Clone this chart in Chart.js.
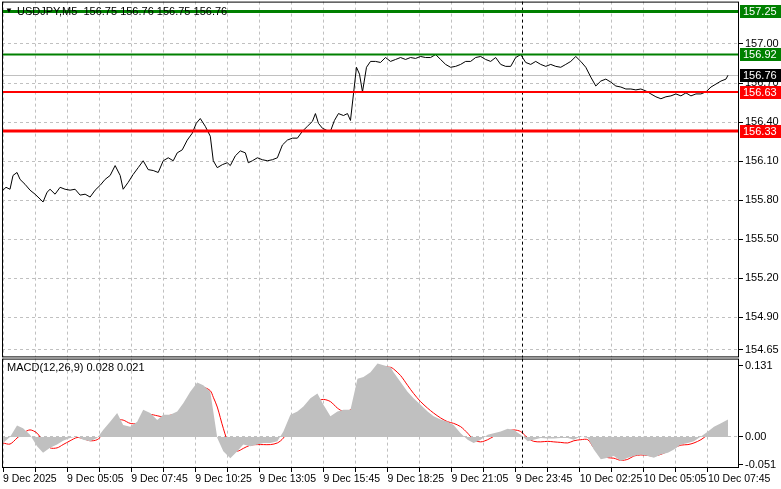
<!DOCTYPE html>
<html><head><meta charset="utf-8">
<script src="https://cdn.jsdelivr.net/npm/chart.js@4.4.1/dist/chart.umd.min.js"></script>
<style>
html,body{margin:0;padding:0;background:#fff;width:781px;height:489px;overflow:hidden;position:relative}
#c1{position:absolute;left:0;top:-7px}
#c2{position:absolute;left:0;top:350px}
</style></head><body>
<canvas id="c1" width="781" height="373"></canvas>
<canvas id="c2" width="781" height="139"></canvas>
<script>
const titleText = "USDJPY,M5  156.75 156.76 156.75 156.76";
const macdText = "MACD(12,26,9) 0.028 0.021";
const timeLabels = ["9 Dec 2025","9 Dec 05:05","9 Dec 07:45","9 Dec 10:25","9 Dec 13:05","9 Dec 15:45","9 Dec 18:25","9 Dec 21:05","9 Dec 23:45","10 Dec 02:25","10 Dec 05:05","10 Dec 07:45"];
const priceTicks = [154.65,154.90,155.20,155.50,155.80,156.10,156.40,156.70,157.00];
const macdTicks = [-0.051,0,0.131];
const levelValues = [157.25,156.92,156.63,156.33];
const levelColors = ["#008000","#008000","#ff0000","#ff0000"];
const levelWidths = [3,2,2,3];
const lastPrice = 156.76;
const markerBar = 259;

const priceBarsA = [0,1.5,3.5,5,7,8.5,11,13.5,16,18.5,20,22,23.5,26,28.5,31,33.5,36,38.5,41,43.5,46,48.5,51,53.5,56,58.5,60,62.5,65,67.5,70,72.5,75,77.5,80,82.5,85,87,89.5,92,94.5,96.5,98.5,101,103.5,105,107,109.5,112,113.5,116,118.5,121,122.5,124.5,127,129.5,132,134.5,137,139.5,142,144.5,147,149.5,152,154.5,156,157.5,159.5,161.5,163.5,165.5,167.5,170,172,173.5,175,176.5,178,179.5];
const pricesA = [155.876,155.898,155.883,155.989,156.012,155.959,155.921,155.876,155.845,155.808,155.785,155.860,155.883,155.845,155.898,155.883,155.876,155.883,155.838,155.845,155.823,155.876,155.913,155.959,155.989,156.065,155.989,155.883,155.936,155.997,156.049,156.102,156.034,156.027,156.012,156.102,156.125,156.102,156.163,156.186,156.261,156.314,156.390,156.427,156.367,156.291,156.102,156.049,156.072,156.087,156.065,156.140,156.178,156.163,156.087,156.102,156.125,156.110,156.102,156.110,156.125,156.223,156.261,156.276,156.276,156.329,156.367,156.405,156.465,156.390,156.352,156.337,156.329,156.412,156.465,156.450,156.465,156.412,156.616,156.821,156.768,156.632];
const priceBarsB = [181.5,183.5,186,188.5,191,193.5,196,198.5,201,203.5,206,208.5,211,213.5,216,218.5,221,223.5,226,228.5,231,233.5,236,238.5,241,243.5,246,248.5,251,253.5,256,258.5,261,263.5,266,268.5,271,273.5,276,278.5,281,283.5,286,288.5,291,293.5,296,298.5,301,303.5,306,308.5,311,313.5,316,318.5,321,323.5,326,328.5,331,333.5,336,338.5,341,343.5,346,348.5,351,353.5,356,358.5,361,362];
const pricesB = [156.821,156.866,156.866,156.858,156.896,156.866,156.881,156.896,156.881,156.896,156.889,156.904,156.896,156.896,156.919,156.881,156.843,156.821,156.828,156.843,156.866,156.866,156.896,156.904,156.881,156.866,156.896,156.843,156.828,156.828,156.896,156.919,156.858,156.843,156.866,156.843,156.828,156.843,156.828,156.821,156.843,156.866,156.904,156.866,156.821,156.745,156.677,156.715,156.730,156.707,156.677,156.669,156.654,156.654,156.647,156.654,156.639,156.616,156.594,156.579,156.594,156.601,156.616,156.601,156.624,156.601,156.616,156.616,156.632,156.669,156.692,156.715,156.730,156.760];

const macdBars = [0,3.5,7,10,13.5,17,20,23.5,27,30,33.5,37,40,43.5,47,50,53.5,57,60,63.5,67,70,73.5,77,80,83.5,87,90,93.5,97,100,103.5,105,107,110,113.5,117,120,123.5,127,130,133.5,137,140,143.5,147,150,153.5,157,160,163.5,167,170,173.5,177,180,183.5,187,190,193.5,
195,198.5,202,205,208.5,212,215,218.5,222,225,228.5,232,235,238.5,242,245,248.5,252,255,258.5,262,265,268.5,272,275,278.5,282,285,288.5,292,295,298.5,302,305,308.5,312,315,318.5,322,325,328.5,332,335,338.5,342,345,348.5,352,355,358.5,362];
const macdHist = [-0.011,0.0,0.021,0.016,0.004,-0.017,-0.029,-0.02,-0.014,-0.007,-0.002,0.001,-0.005,-0.008,-0.002,0.013,0.028,0.044,0.022,0.019,0.028,0.05,0.044,0.031,0.041,0.041,0.047,0.062,0.083,0.1,0.095,0.083,0.047,-0.002,-0.026,-0.039,-0.026,-0.014,-0.017,-0.014,-0.011,-0.011,-0.008,0.01,0.041,0.047,0.056,0.071,0.08,0.059,0.038,0.047,0.05,0.05,0.107,0.11,0.119,0.135,0.132,0.128,
0.119,0.101,0.083,0.071,0.059,0.047,0.038,0.032,0.028,0.022,0.007,-0.005,-0.011,-0.005,0.004,0.007,0.01,0.015,0.013,0.004,-0.008,-0.005,-0.002,-0.003,-0.003,-0.002,-0.002,-0.005,0.001,-0.002,-0.023,-0.041,-0.038,-0.035,-0.044,-0.038,-0.035,-0.032,-0.035,-0.038,-0.032,-0.029,-0.023,-0.014,-0.011,-0.008,0.001,0.01,0.019,0.025,0.032];
const macdSignal = [-0.011,-0.013,-0.002,0.007,0.013,0.007,-0.008,-0.02,-0.02,-0.014,-0.007,-0.001,-0.003,-0.007,-0.005,0.005,0.019,0.031,0.031,0.025,0.025,0.034,0.041,0.039,0.037,0.04,0.043,0.055,0.07,0.085,0.091,0.085,0.073,0.055,0.016,-0.02,-0.026,-0.021,-0.015,-0.014,-0.014,-0.014,-0.011,-0.002,0.019,0.037,0.05,0.059,0.066,0.069,0.065,0.053,0.047,0.05,0.071,0.091,0.109,0.122,0.128,0.128,
0.125,0.113,0.095,0.08,0.065,0.053,0.044,0.035,0.028,0.025,0.019,0.007,-0.005,-0.009,-0.005,0.001,0.007,0.011,0.013,0.01,-0.002,-0.008,-0.009,-0.008,-0.009,-0.01,-0.011,-0.007,-0.005,-0.005,-0.02,-0.032,-0.038,-0.039,-0.043,-0.041,-0.035,-0.033,-0.034,-0.035,-0.032,-0.026,-0.02,-0.015,-0.014,-0.011,-0.005,0.004,0.01,0.015,0.022];

const FONT = "Liberation Sans";
const XMIN = -0.5, XMAX = 367.5;
const allPrices = pricesA.concat(pricesB);
const priceData = priceBarsA.concat(priceBarsB).map((b,i)=>({x:b,y:allPrices[i]}));
const histData = macdBars.map((b,i)=>({x:b,y:macdHist[i]}));
const sigData = macdBars.map((b,i)=>({x:b,y:macdSignal[i]}));

function xTicks(axis){ const t=[]; for(let b=0;b<=XMAX;b+=16) t.push({value:b}); axis.ticks=t; }

const framePlugin = {
  id:'frame',
  beforeDatasetsDraw(chart){
    const {ctx, chartArea:a, scales} = chart;
    if (chart.canvas.id==='c1'){
      const y = scales.y.getPixelForValue(lastPrice);
      ctx.save(); ctx.strokeStyle="#c0c0c0"; ctx.lineWidth=1;
      ctx.beginPath(); ctx.moveTo(a.left,Math.round(y)+0.5); ctx.lineTo(a.right,Math.round(y)+0.5); ctx.stroke(); ctx.restore();
    }
  },
  afterDatasetsDraw(chart){
    const {ctx, chartArea:a, scales} = chart;
    ctx.save();
    const xm = Math.round(scales.x.getPixelForValue(markerBar))+0.5;
    ctx.strokeStyle="#000"; ctx.lineWidth=1; ctx.setLineDash([3,3]);
    ctx.beginPath(); ctx.moveTo(xm,a.top); ctx.lineTo(xm,a.bottom); ctx.stroke();
    ctx.setLineDash([]);
    ctx.font="11px '"+FONT+"'"; ctx.textBaseline="middle"; ctx.fillStyle="#000";
    if (chart.canvas.id==='c1'){
      levelValues.forEach((v,i)=>{
        const y = scales.y.getPixelForValue(v);
        ctx.strokeStyle=levelColors[i]; ctx.lineWidth=levelWidths[i];
        ctx.beginPath(); ctx.moveTo(a.left,y); ctx.lineTo(a.right,y); ctx.stroke();
      });
      ctx.fillStyle="#000";
      ctx.font="8px '"+FONT+"'"; ctx.fillText("\u25BC",5,a.top+9);
      ctx.font="11px '"+FONT+"'"; ctx.fillText(titleText,17,a.top+10);
    } else {
      ctx.fillText(macdText,7,a.top+9);
    }
    ctx.strokeStyle="#000"; ctx.lineWidth=1;
    ctx.strokeRect(a.left+0.5,a.top+0.5,a.right-a.left-1,a.bottom-a.top-1);
    ctx.restore();
  },
  afterDraw(chart){
    if (chart.canvas.id!=='c1') return;
    const {ctx, chartArea:a, scales} = chart;
    ctx.save(); ctx.font="11px '"+FONT+"'"; ctx.textBaseline="middle";
    const boxes = levelValues.map((v,i)=>[v,levelColors[i]]).concat([[lastPrice,"#000"]]);
    boxes.forEach(([v,c])=>{
      const y = Math.round(scales.y.getPixelForValue(v));
      ctx.fillStyle=c; ctx.fillRect(a.right+1,y-6,41,13);
      ctx.fillStyle="#fff"; ctx.fillText(v.toFixed(2),a.right+4,y+1);
    });
    ctx.restore();
  }
};

const yAxisCommon = (min,max,ticks,fmt,gridFn)=>({
  type:'linear', position:'right', min, max,
  afterBuildTicks(ax){ ax.ticks = ticks.map(v=>({value:v})); },
  afterFit(ax){ ax.width = 42; },
  border:{display:false, dash:[3,3]},
  grid:{color:gridFn, lineWidth:1, tickLength:4, drawTicks:true, tickColor:"#000"},
  ticks:{color:"#000", padding:2, font:{family:FONT,size:11}, callback:fmt}
});

new Chart(document.getElementById('c1'),{
  type:'line',
  data:{datasets:[{data:priceData, borderColor:"#000", borderWidth:1, pointRadius:0, tension:0, fill:false}]},
  options:{
    responsive:false, animation:false, events:[],
    layout:{padding:{left:2,top:0,right:0,bottom:0}},
    plugins:{legend:{display:false}, tooltip:{enabled:false}},
    scales:{
      x:{type:'linear', min:XMIN, max:XMAX, afterBuildTicks:xTicks, afterFit(ax){ax.height=0;},
         border:{display:false, dash:[3,3]}, ticks:{display:false},
         grid:{color:"#c0c0c0", lineWidth:1, drawTicks:false, tickLength:0}},
      y:yAxisCommon(154.59,157.326,priceTicks,v=>v.toFixed(2),()=>"#c0c0c0")
    }
  },
  plugins:[framePlugin]
});

new Chart(document.getElementById('c2'),{
  type:'line',
  data:{datasets:[
    {data:histData, borderWidth:0, borderColor:"rgba(0,0,0,0)", backgroundColor:"#c0c0c0", pointRadius:0, tension:0, fill:'origin'},
    {data:sigData, borderColor:"#ff0000", borderWidth:1, pointRadius:0, tension:0.3, fill:false}
  ]},
  options:{
    responsive:false, animation:false, events:[],
    layout:{padding:{left:2,top:0,right:0,bottom:0}},
    plugins:{legend:{display:false}, tooltip:{enabled:false}},
    scales:{
      x:{type:'linear', min:XMIN, max:XMAX, afterBuildTicks:xTicks, afterFit(ax){ax.height=21;},
         border:{display:false, dash:[3,3]},
         grid:{color:"#c0c0c0", tickLength:4, tickColor:"#000", drawTicks:true},
         ticks:{color:"#000", align:'start', padding:1, maxRotation:0, autoSkip:false, font:{family:FONT,size:10.5},
           callback:(v)=> (v%32===0 ? (timeLabels[v/32]||'') : '')}},
      y:yAxisCommon(-0.057,0.144,macdTicks,v=>(v===0?"0.00":v.toFixed(3)),(c)=>(c.tick && c.tick.value===0?"#c0c0c0":"rgba(0,0,0,0)"))
    }
  },
  plugins:[framePlugin]
});
</script>
</body></html>
